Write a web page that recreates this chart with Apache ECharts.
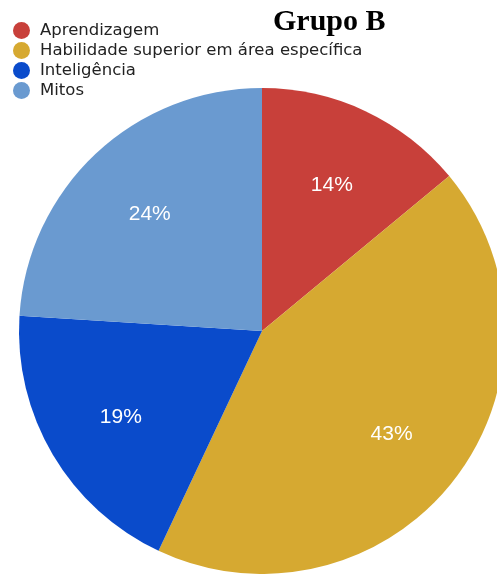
<!DOCTYPE html>
<html>
<head>
<meta charset="utf-8">
<script src="https://cdn.jsdelivr.net/npm/echarts@6/dist/echarts.min.js"></script>
<style>
  html, body { margin: 0; padding: 0; background: #fff; }
  #chart { width: 497px; height: 574px; }
</style>
</head>
<body>
<div id="chart"></div>
<script>
// Categories and their shares (%) for Grupo B
const categories = ['Aprendizagem', 'Habilidade superior em área específica', 'Inteligência', 'Mitos'];
const shares = [14, 43, 19, 24];
const colors = ['#C8403A', '#D6A931', '#0A4BCB', '#6A9AD0'];

const pieData = categories.map((name, i) => ({ name: name, value: shares[i] }));

const chart = echarts.init(document.getElementById('chart'), null, { renderer: 'canvas' });

chart.setOption({
  animation: false,
  color: colors,
  title: {
    text: 'Grupo B',
    left: 268,
    top: 2,
    textStyle: {
      fontFamily: 'Liberation Serif',
      fontWeight: 'bold',
      fontSize: 30,
      color: '#000'
    }
  },
  legend: {
    orient: 'vertical',
    left: 8,
    top: 17,
    icon: 'circle',
    itemWidth: 17,
    itemHeight: 17,
    itemGap: 3,
    selectedMode: false,
    textStyle: {
      fontFamily: 'DejaVu Sans',
      fontSize: 16.5,
      lineHeight: 17,
      color: '#222',
      padding: [0, 0, 0, 5]
    },
    data: categories
  },
  series: [
    {
      // the pie itself
      type: 'pie',
      center: [262, 331],
      radius: [0, 243],
      startAngle: 90,
      clockwise: true,
      silent: true,
      label: { show: false },
      labelLine: { show: false },
      data: pieData
    },
    {
      // transparent ring used only to place the percentage labels further out
      type: 'pie',
      center: [262, 334],
      radius: [0, 322],
      startAngle: 90,
      clockwise: true,
      silent: true,
      legendHoverLink: false,
      itemStyle: { color: 'rgba(0,0,0,0)' },
      label: {
        show: true,
        position: 'inside',
        formatter: '{c}%',
        color: '#fff',
        fontFamily: 'Liberation Sans',
        fontSize: 21
      },
      labelLine: { show: false },
      data: pieData
    }
  ]
});
</script>
</body>
</html>
